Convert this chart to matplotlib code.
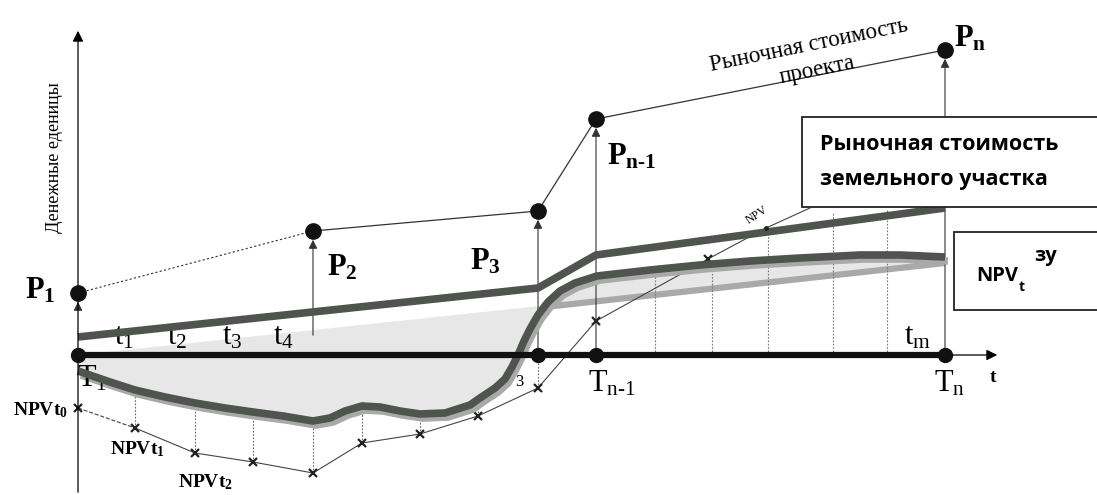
import matplotlib
matplotlib.use('Agg')
import matplotlib.pyplot as plt
import numpy as np
from matplotlib.patches import Rectangle

plt.rcParams['mathtext.fontset'] = 'custom'
plt.rcParams['mathtext.rm'] = 'Liberation Serif'
plt.rcParams['mathtext.bf'] = 'Liberation Serif:bold'
plt.rcParams['mathtext.it'] = 'Liberation Serif:italic'
plt.rcParams['font.family'] = ['Liberation Serif', 'DejaVu Serif']

# x = time (scan px), v = money units above the t axis
project_x = [78, 313, 538, 596, 945]
project_v = [62, 124, 144, 236, 305]
project_labels = [r'$\mathbf{P}_\mathbf{1}$', r'$\mathbf{P}_\mathbf{2}$', r'$\mathbf{P}_\mathbf{3}$',
                  r'$\mathbf{P}_{\mathbf{n\text{-}1}}$', r'$\mathbf{P}_\mathbf{n}$']
project_label_pos = [(40, 64), (342, 87), (485, 93), (632, 198), (970, 316)]

land_x = [78, 538, 596, 945]
land_v = [18, 67, 100, 147]

curve_x = [78, 110, 135, 165, 195, 225, 253, 283, 313, 330, 345, 362, 380, 400,
           420, 445, 470, 480, 495, 505, 512, 518, 524, 530, 538, 548, 560, 575,
           597, 650, 700, 750, 800, 860, 900, 945]
curve_v = [-16, -27, -35, -42, -48, -53, -57, -61, -66, -63, -56, -51, -52, -56,
           -59, -58, -50, -43, -33, -24, -12, 0, 14, 26, 40, 53, 64, 72,
           79, 85, 90, 94, 97, 100, 100, 98]

fill_edge_x = [945, 78]
fill_edge_v = [92, 0]
light_x = [545, 945]
light_v = [48, 92]

npv_x = [78, 135, 195, 253, 313, 362, 420, 478, 538, 596, 708, 766, 810]
npv_v = [-53, -73, -98, -107, -118, -88, -79, -61, -33, 34, 96, 127, 147]
cross_count = 11  # last two points: NPV dot and box corner

axis_dots_x = [78, 538, 596, 945]
t_labels = [r'$\mathrm{t}_\mathrm{1}$', r'$\mathrm{t}_\mathrm{2}$', r'$\mathrm{t}_\mathrm{3}$',
            r'$\mathrm{t}_\mathrm{4}$', r'$\mathrm{t}_\mathrm{m}$']
t_label_x = [124, 177, 232, 283, 918]

right_grid_x = [655, 712, 768, 833, 887]
right_grid_top = [84, 89, 127, 143, 146]

fig = plt.figure(figsize=(10.97, 4.95), dpi=100)
ax = fig.add_axes([0, 0, 1, 1])
ax.set_xlim(0, 1097)
ax.set_ylim(-140, 355)
ax.axis('off')

dark = '#50544f'
shadow = '#a9a9a9'

# shaded area between the NPV curve and the reference edge
ax.fill(list(curve_x) + fill_edge_x, list(curve_v) + fill_edge_v,
        color='#e7e7e7', lw=0, zorder=1)
ax.plot(light_x, light_v, color=shadow, lw=4.5, solid_capstyle='butt', zorder=2)

# dotted verticals from crosses to the curve
for x, v in zip(npv_x[1:9], npv_v[1:9]):
    top = 0 if x == 538 else np.interp(x, curve_x, curve_v)
    ax.plot([x, x], [v, top], ls=(0, (1.5, 1.5)), color='#666', lw=0.8, zorder=2)
for x, top in zip(right_grid_x, right_grid_top):
    ax.plot([x, x], [0, top], ls=(0, (1.5, 1.5)), color='#777', lw=0.8, zorder=2)

# NPV points line
ax.plot(npv_x[:2], npv_v[:2], ls='--', color='#444', lw=0.8, zorder=3)
ax.plot(npv_x[1:], npv_v[1:], color='#444', lw=0.8, zorder=3)
ax.plot(npv_x[:cross_count], npv_v[:cross_count], ls='none', marker='x',
        ms=6, mew=1.6, color='#222', zorder=3)
ax.plot(npv_x[11], npv_v[11], ls='none', marker='o', ms=2.5, color='#222', zorder=6)

# thick curves
ax.plot(np.array(curve_x) + 3, np.array(curve_v) - 4, color=shadow, lw=5.5,
        solid_capstyle='butt', zorder=4)
ax.plot(curve_x, curve_v, color=dark, lw=5.5, solid_capstyle='butt', zorder=5)
ax.plot(land_x, land_v, color=dark, lw=5.5, solid_capstyle='butt', zorder=5)

# axes
ax.annotate('', xy=(78, 327), xytext=(78, -140),
            arrowprops=dict(arrowstyle='-|>', lw=0.9, color='k', mutation_scale=16), zorder=6)
ax.annotate('', xy=(1000, 0), xytext=(945, 0),
            arrowprops=dict(arrowstyle='-|>', lw=0.9, color='k', mutation_scale=16), zorder=6)
ax.plot([78, 945], [0, 0], color='#111', lw=4.5, zorder=6)
ax.plot(axis_dots_x, [0] * len(axis_dots_x), ls='none', marker='o', ms=10,
        color='#111', zorder=7)

# project market value
ax.plot(project_x[:2], project_v[:2], ls=(0, (2, 2)), color='#333', lw=0.8, zorder=3)
ax.plot(project_x[1:], project_v[1:], color='#333', lw=0.9, zorder=3)
arrow_base = [45, 17, 0, 0, 0]
for x, v, b in zip(project_x, project_v, arrow_base):
    ax.annotate('', xy=(x, v - 6), xytext=(x, b),
                arrowprops=dict(arrowstyle='-|>', lw=0.8, color='#333', mutation_scale=13),
                zorder=3)
ax.plot(project_x, project_v, ls='none', marker='o', ms=11, color='#111', zorder=7)
for lab, (x, v) in zip(project_labels, project_label_pos):
    ax.text(x, v, lab, fontsize=22, ha='center', va='center', zorder=9)

ax.text(809, 310, 'Рыночная стоимость', rotation=11.5, fontsize=16.5,
        ha='center', va='center', rotation_mode='anchor', zorder=9)
ax.text(817, 285, 'проекта', rotation=11.5, fontsize=16.5,
        ha='center', va='center', rotation_mode='anchor', zorder=9)
ax.text(757, 140, 'NPV', rotation=33, fontsize=8.5, ha='center', va='center', zorder=9)

# time labels
for lab, x in zip(t_labels, t_label_x):
    ax.text(x, 18, lab, fontsize=22, ha='center', va='center', zorder=4)
ax.text(92, -24, r'$\mathrm{T}_\mathrm{1}$', fontsize=22, ha='center', va='center', zorder=4)
ax.text(612, -29, r'$\mathrm{T}_{\mathrm{n\text{-}1}}$', fontsize=22, ha='center', va='center', zorder=9)
ax.text(950, -29, r'$\mathrm{T}_\mathrm{n}$', fontsize=22, ha='center', va='center', zorder=9)
ax.text(993, -23, 't', fontsize=14, fontweight='bold', ha='center', va='center', zorder=9)
ax.text(519, -27, '3', fontsize=12, ha='center', va='center', zorder=9)

ax.text(68, -55, r'$\mathbf{NPVt}_\mathbf{0}$', fontsize=14, ha='right', va='center', zorder=9)
ax.text(137, -94, r'$\mathbf{NPVt}_\mathbf{1}$', fontsize=14, ha='center', va='center', zorder=9)
ax.text(205, -127, r'$\mathbf{NPVt}_\mathbf{2}$', fontsize=14, ha='center', va='center', zorder=9)

ax.text(55, 197, 'Денежные еденицы', rotation=90, fontsize=13,
        ha='center', va='center', zorder=9)

# legend boxes
ax.add_patch(Rectangle((802, 148), 400, 90, facecolor='white', edgecolor='#222',
                       lw=1.3, zorder=8))
ax.text(820, 210, 'Рыночная стоимость', fontsize=15.5, fontweight='bold',
        family='Open Sans', ha='left', va='center', zorder=9)
ax.text(820, 175, 'земельного участка', fontsize=15.5, fontweight='bold',
        family='Open Sans', ha='left', va='center', zorder=9)
ax.add_patch(Rectangle((954, 45), 300, 78, facecolor='white', edgecolor='#222',
                       lw=1.3, zorder=8))
ax.text(976, 79, 'NPV', fontsize=14.5, fontweight='bold', family='Open Sans',
        ha='left', va='center', zorder=9)
ax.text(1019, 68, 't', fontsize=10, fontweight='bold', family='Open Sans',
        ha='left', va='center', zorder=9)
ax.text(1034, 99, 'зу', fontsize=14.5, fontweight='bold', family='Open Sans',
        ha='left', va='center', zorder=9)

fig.savefig('out.png', dpi=100)
